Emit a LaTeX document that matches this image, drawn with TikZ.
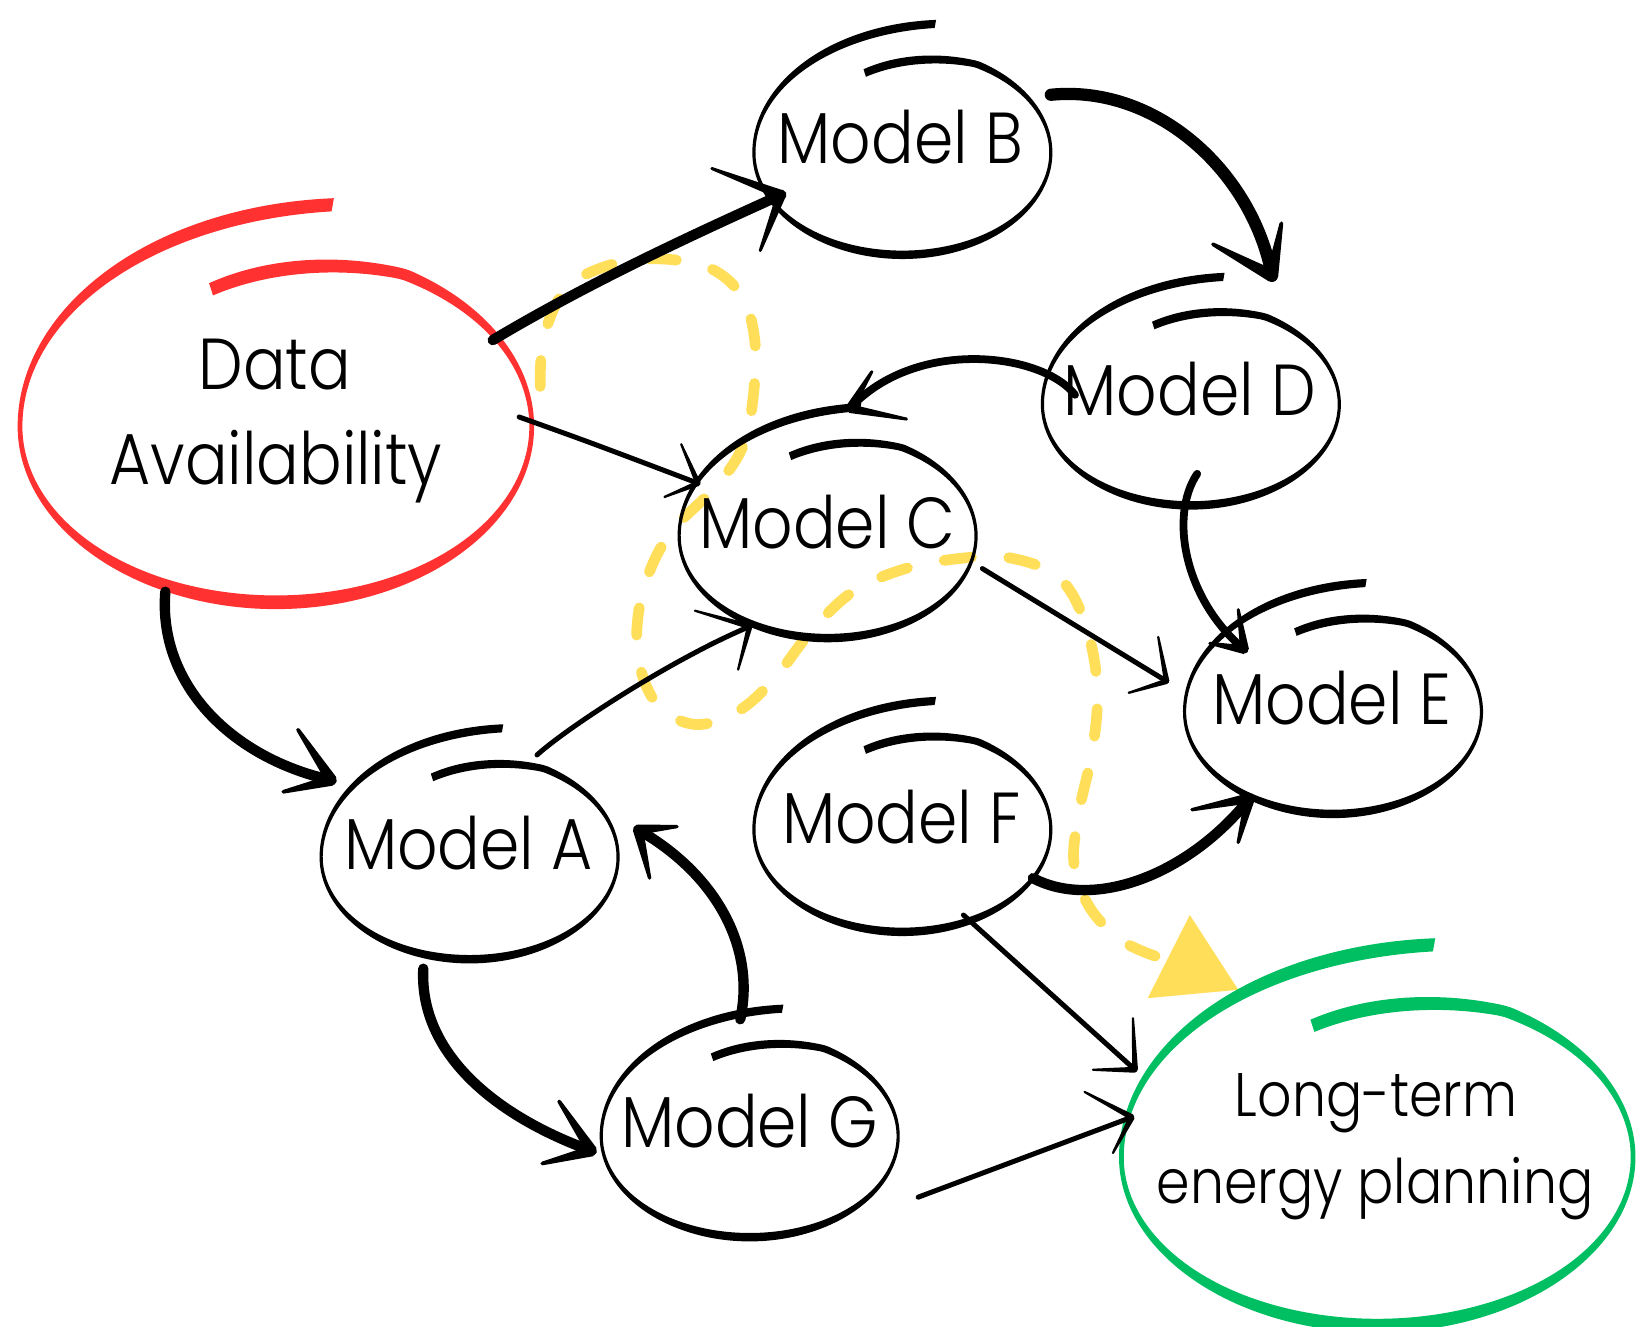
\documentclass[tikz,border=0pt]{standalone}
\usepackage{fontspec}
\setmainfont{Poppins}[UprightFont=* Light, FakeStretch=0.875]
\usetikzlibrary{calc}

\definecolor{inkred}{HTML}{FF3131}
\definecolor{inkgreen}{HTML}{00BF63}
\definecolor{inkyellow}{HTML}{FFDE59}

% hand-drawn loop around a hub node, drawn as a band of varying width:
% #1 node, #2 half width, #3 half height, #4 colour, #5 thinnest, #6 thickest stroke
\newcommand\sketchloop[6]{%
  \fill[#4, shift={(#1)}]
    plot[domain=108:-280, samples=200, smooth, variable=\t]
      ({(#2*rf(\t)+0.5*wd(\t,#5,#6))*cos(\t)}, {-(#3*rf(\t)+0.5*wd(\t,#5,#6))*sin(\t)})
    -- plot[domain=-280:108, samples=200, smooth, variable=\t]
      ({(#2*rf(\t)-0.5*wd(\t,#5,#6))*cos(\t)}, {-(#3*rf(\t)-0.5*wd(\t,#5,#6))*sin(\t)})
    -- cycle;
}

% one tapering barb of an arrow head: #1 tip, #2/#3 offset of its free end,
% #4 half width at the tip, #5 half width at the free end
\newcommand\barb[5]{%
  \coordinate (barbend) at ($(#1)+(#2,#3)$);
  \fill ($(#1)!#4!90:(barbend)$) -- ($(barbend)!#5!-90:(#1)$)
     -- ($(barbend)!#5!90:(#1)$) -- ($(#1)!#4!-90:(barbend)$) -- cycle;
  \fill (barbend) circle[radius=#5];
}

\begin{document}
\begin{tikzpicture}[x=0.01cm, y=-0.01cm,
  declare function={ramp(\u)=max(0,\u);
                    rf(\t)=1-0.18*ramp((\t-60)/48)+0.28*ramp((-180-\t)/100)*ramp((-180-\t)/100);
                    wd(\t,\lo,\hi)=\lo+(\hi-\lo)*sin(\t)*sin(\t);},
  hub/.style={inner sep=0pt, outer sep=0pt, minimum size=0pt},
  lbl/.style={anchor=base, inner sep=0pt, font=\fontsize{19.5}{25}\selectfont},
  lblsmall/.style={anchor=base, inner sep=0pt, font=\fontsize{16.6}{22}\selectfont},
  heavy/.style={line width=2.1pt, line cap=round, line join=round},
  heavier/.style={line width=2.8pt, line cap=round, line join=round},
  heaviest/.style={line width=3.3pt, line cap=round, line join=round},
  light/.style={line width=1.35pt, line cap=round, line join=round},
  trail/.style={inkyellow, line width=2.9pt, line cap=round,
                dash pattern=on 7.4pt off 10.13pt},
]
\useasboundingbox (0,0) rectangle (1568,1260);

% hubs of the bubbles
\node[hub] (da) at (262,405) {};
\node[hub] (mb) at (857,145) {};
\node[hub] (md) at (1131,384) {};
\node[hub] (mc) at (786,509) {};
\node[hub] (me) at (1266,676) {};
\node[hub] (mf) at (857,788) {};
\node[hub] (ma) at (446,814) {};
\node[hub] (mg) at (712,1079) {};
\node[hub] (lt) at (1308,1099) {};

% yellow dashed trail with its triangle (traced from the triangle end back)
\coordinate (ys) at ($(da)+(251,-38)$);
\coordinate (ye) at ($(lt)+(-211,-191)$);
\draw[trail] plot[smooth, tension=0.6] coordinates {(ye) (1065,893) (1035,862)
  (1020,820) (1025,770) (1038,710) (1042,650) (1030,590) (1005,548) (960,530)
  (915,530) (860,540) (810,562) (770,600) (735,645) (700,676) (660,688) (625,670)
  (607,630) (606,585) (618,540) (640,502) (680,462) (705,425) (715,380) (717,325)
  (705,282) (675,255) (630,246) (585,250) (540,272) (517,318) (ys)};
\fill[inkyellow] ($(lt)+(-178,-230)$) -- ($(lt)+(-218,-151)$) -- ($(lt)+(-132,-159)$) -- cycle;

% bubbles
\sketchloop{da}{243}{167}{inkred}{4.5}{13}
\sketchloop{mb}{141}{97}{black}{3}{8}
\sketchloop{md}{141}{96}{black}{3}{8}
\sketchloop{mc}{141}{97}{black}{3}{8}
\sketchloop{me}{141}{97}{black}{3}{8}
\sketchloop{mf}{141}{97}{black}{3}{8}
\sketchloop{ma}{141}{97}{black}{3}{8}
\sketchloop{mg}{141}{96}{black}{3}{8}
\sketchloop{lt}{243}{160}{inkgreen}{4.5}{13}

% labels
\node[lbl] (tda1) at ($(da)+(-1,-35)$) {Data};
\node[lbl] (tda2) at ($(da)+(0,55)$) {Availability};
\node[lbl] (tmb) at ($(mb)+(-2,10)$) {Model B};
\node[lbl] (tmd) at ($(md)+(-1,11)$) {Model D};
\node[lbl] (tmc) at ($(mc)+(0,12)$) {Model C};
\node[lbl] (tme) at ($(me)+(-1,12)$) {Model E};
\node[lbl] (tmf) at ($(mf)+(-1,13)$) {Model F};
\node[lbl] (tma) at ($(ma)+(-1,12)$) {Model A};
\node[lbl] (tmg) at ($(mg)+(0,11)$) {Model G};
\node[lblsmall] (tlt1) at ($(lt)+(-1,-39)$) {Long-term};
\node[lblsmall] (tlt2) at ($(lt)+(-2,44)$) {energy planning};

% connectors
% Data Availability -> Model B
\coordinate (a1s) at ($(da)+(206,-82)$);
\coordinate (a1t) at ($(mb)+(-115,40)$);
\draw[heavier] (a1s) .. controls (560,268) and (660,222) .. (a1t);
\barb{a1t}{-66}{-25}{1.3pt}{0.4pt}
\barb{a1t}{-20}{53}{1.3pt}{0.4pt}

% Data Availability -> Model C
\coordinate (a2s) at ($(da)+(231,-9)$);
\coordinate (a2t) at ($(mc)+(-123,-50)$);
\draw[light] (a2s) .. controls (560,420) .. (a2t);
\barb{a2t}{-16}{-37}{0.75pt}{0.3pt}
\barb{a2t}{-32}{13}{0.75pt}{0.3pt}

% Data Availability -> Model A
\coordinate (a3s) at ($(da)+(-105,157)$);
\coordinate (a3t) at ($(ma)+(-131,-73)$);
\draw[heavier] (a3s) .. controls (150,650) and (220,720) .. (a3t);
\barb{a3t}{-32}{-48}{1.5pt}{0.5pt}
\barb{a3t}{-46}{11}{1.5pt}{0.5pt}

% Model B -> Model D
\coordinate (a4s) at ($(mb)+(141,-55)$);
\coordinate (a4t) at ($(md)+(77,-122)$);
\draw[heaviest] (a4s) .. controls (1100,80) and (1190,165) .. (a4t);
\barb{a4t}{-56}{-30}{1.7pt}{0.5pt}
\barb{a4t}{9}{-50}{1.7pt}{0.5pt}

% Model D -> Model C
\coordinate (a5s) at ($(md)+(-110,-9)$);
\coordinate (a5t) at ($(mc)+(21,-121)$);
\draw[heavy] (a5s) .. controls (990,335) and (870,320) .. (a5t);
\barb{a5t}{21}{-35}{1.2pt}{0.4pt}
\barb{a5t}{54}{10}{1.2pt}{0.4pt}

% Model D -> Model E
\coordinate (a6s) at ($(md)+(6,66)$);
\coordinate (a6t) at ($(me)+(-84,-59)$);
\draw[heavy] (a6s) .. controls (1110,490) and (1125,570) .. (a6t);
\barb{a6t}{-6}{-38}{1.2pt}{0.4pt}
\barb{a6t}{-33}{-6}{1.2pt}{0.4pt}

% Model C -> Model E
\coordinate (a7s) at ($(mc)+(147,31)$);
\coordinate (a7t) at ($(me)+(-158,-29)$);
\draw[light] (a7s) -- (a7t);
\barb{a7t}{-8}{-42}{0.75pt}{0.3pt}
\barb{a7t}{-36}{11}{0.75pt}{0.3pt}

% Model A -> Model C
\coordinate (a8s) at ($(ma)+(64,-97)$);
\coordinate (a8t) at ($(mc)+(-74,86)$);
\draw[light] (a8s) .. controls (540,690) and (640,625) .. (a8t);
\barb{a8t}{-52}{-15}{0.75pt}{0.3pt}
\barb{a8t}{-11}{41}{0.75pt}{0.3pt}

% Model G -> Model A
\coordinate (a9s) at ($(mg)+(-9,-111)$);
\coordinate (a9t) at ($(ma)+(160,-26)$);
\draw[heavier] (a9s) .. controls (718,900) and (680,830) .. (a9t);
\barb{a9t}{37}{-3}{1.4pt}{0.45pt}
\barb{a9t}{11}{46}{1.4pt}{0.45pt}

% Model A -> Model G
\coordinate (a10s) at ($(ma)+(-44,106)$);
\coordinate (a10t) at ($(mg)+(-150,14)$);
\draw[heavier] (a10s) .. controls (398,1000) and (470,1060) .. (a10t);
\barb{a10t}{-31}{-47}{1.5pt}{0.5pt}
\barb{a10t}{-47}{12}{1.5pt}{0.5pt}

% Model F -> Model E
\coordinate (a11s) at ($(mf)+(124,46)$);
\coordinate (a11t) at ($(me)+(-79,82)$);
\draw[heavier] (a11s) .. controls (1040,865) and (1130,830) .. (a11t);
\barb{a11t}{-55}{11}{1.4pt}{0.45pt}
\barb{a11t}{-11}{42}{1.4pt}{0.45pt}

% Model F -> Long-term energy planning
\coordinate (a12s) at ($(mf)+(58,81)$);
\coordinate (a12t) at ($(lt)+(-230,-83)$);
\draw[light] (a12s) -- (a12t);
\barb{a12t}{-2}{-49}{0.8pt}{0.3pt}
\barb{a12t}{-40}{0}{0.8pt}{0.3pt}

% Model G -> Long-term energy planning
\coordinate (a13s) at ($(mg)+(160,58)$);
\coordinate (a13t) at ($(lt)+(-233,-38)$);
\draw[light] (a13s) -- (a13t);
\barb{a13t}{-45}{-24}{0.8pt}{0.3pt}
\barb{a13t}{-18}{34}{0.8pt}{0.3pt}
\end{tikzpicture}
\end{document}
